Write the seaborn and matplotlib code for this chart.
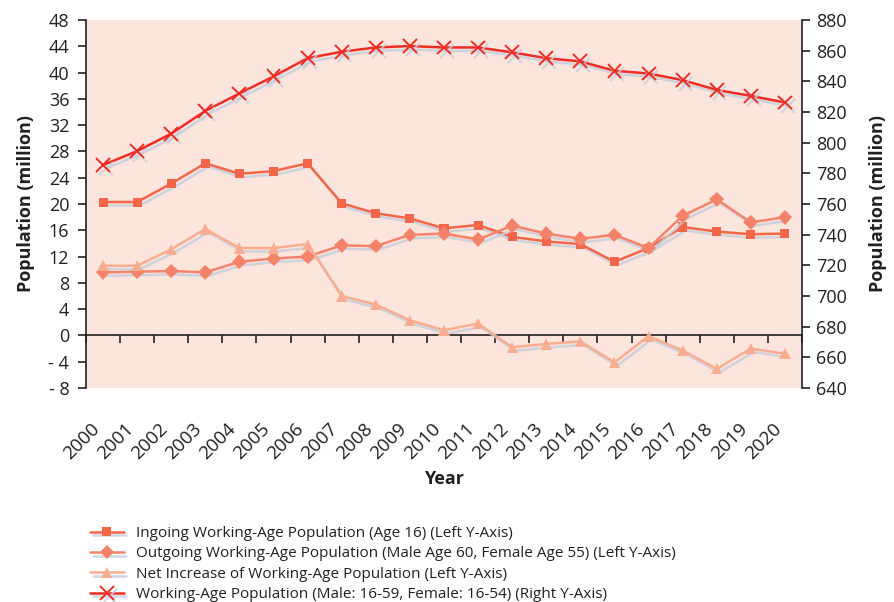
import matplotlib
matplotlib.use("Agg")
import matplotlib.pyplot as plt
import matplotlib.patheffects as pe
from matplotlib.transforms import ScaledTranslation
import seaborn as sns
import pandas as pd

# values
years = list(range(2000, 2021))
ingoing = [20.3, 20.3, 23.1, 26.2, 24.6, 25.0, 26.2, 20.1, 18.6, 17.8, 16.3,
           16.8, 15.0, 14.3, 13.9, 11.2, 13.3, 16.5, 15.8, 15.4, 15.5]
outgoing = [9.6, 9.7, 9.8, 9.6, 11.2, 11.7, 12.0, 13.7, 13.6, 15.3, 15.5,
            14.6, 16.7, 15.5, 14.7, 15.3, 13.3, 18.2, 20.7, 17.2, 18.0]
net_increase = [10.6, 10.6, 13.1, 16.2, 13.3, 13.3, 13.9, 6.0, 4.7, 2.3, 0.8,
                1.8, -1.8, -1.3, -0.9, -4.1, -0.1, -2.3, -5.1, -2.0, -2.8]
working_age = [785.4, 794.5, 805.9, 820.7, 832.1, 843.2, 855.1, 859.3, 862.1, 863.0, 862.1,
               862.1, 858.9, 855.1, 853.0, 846.9, 845.1, 840.8, 834.4, 830.5, 826.2]

left_ticks = list(range(-8, 49, 4))
right_ticks = list(range(640, 881, 20))

labels = [
    "Ingoing Working-Age Population (Age 16) (Left Y-Axis)",
    "Outgoing Working-Age Population (Male Age 60, Female Age 55) (Left Y-Axis)",
    "Net Increase of Working-Age Population (Left Y-Axis)",
    "Working-Age Population (Male: 16-59, Female: 16-54) (Right Y-Axis)",
]
colors = ["#f26649", "#f5836a", "#f9ad90", "#ee2d24"]

df = pd.DataFrame({"Year": years, "ingoing": ingoing, "outgoing": outgoing,
                   "net": net_increase, "working": working_age})

sns.set_style("white")
plt.rcParams["font.family"] = ["Open Sans", "DejaVu Sans"]
text_color = "#231f20"

fig = plt.figure(figsize=(8.95, 6.02), dpi=100)
ax = fig.add_axes([86 / 895, 1 - 388 / 602, (802 - 86) / 895, (388 - 20) / 602])
ax.set_facecolor("#fce5dc")
ax2 = ax.twinx()

shadow = [pe.SimpleLineShadow(offset=(2, -2.5), shadow_color="#c5cedb", alpha=0.8), pe.Normal()]

sns.lineplot(data=df, x="Year", y="ingoing", ax=ax, color=colors[0], marker="s",
             markersize=6.5, markeredgewidth=0, linewidth=1.8, label=labels[0],
             path_effects=shadow, legend=False)
sns.lineplot(data=df, x="Year", y="outgoing", ax=ax, color=colors[1], marker="D",
             markersize=7.5, markeredgewidth=0, linewidth=1.8, label=labels[1],
             path_effects=shadow, legend=False)
sns.lineplot(data=df, x="Year", y="net", ax=ax, color=colors[2], marker="^",
             markersize=8, markeredgewidth=0, linewidth=1.8, label=labels[2],
             path_effects=shadow, legend=False)
sns.lineplot(data=df, x="Year", y="working", ax=ax2, color=colors[3], marker="x",
             markersize=10, markeredgewidth=1.4, markeredgecolor=colors[3],
             linewidth=1.8, label=labels[3], path_effects=shadow, legend=False)

# axes limits and ticks
ax.set_xlim(years[0] - 0.5, years[-1] + 0.5)
ax.set_ylim(left_ticks[0], left_ticks[-1])
ax2.set_ylim(right_ticks[0], right_ticks[-1])

ax.set_yticks(left_ticks)
ax.set_yticklabels([f"- {-t}" if t < 0 else str(t) for t in left_ticks])
ax2.set_yticks(right_ticks)
ax2.set_yticklabels([str(t) for t in right_ticks])

ax.set_xticks(years)
ax.set_xticklabels([str(y) for y in years], rotation=45, ha="right",
                   fontsize=13.5, color=text_color)
shift = ScaledTranslation(-11 / 100, 0, fig.dpi_scale_trans)
for lbl in ax.get_xticklabels():
    lbl.set_transform(lbl.get_transform() + shift)
ax.tick_params(axis="x", length=0, pad=23)
ax.tick_params(axis="y", direction="out", length=6, width=1.2, labelsize=13,
               colors=text_color, pad=6)
ax2.tick_params(axis="y", direction="out", length=6, width=1.2, labelsize=13,
                colors=text_color, pad=4)

for a in (ax, ax2):
    for s in ("top", "bottom"):
        a.spines[s].set_visible(False)
ax.spines["right"].set_visible(False)
ax.spines["left"].set_color(text_color)
ax.spines["left"].set_linewidth(1.2)
ax2.spines["left"].set_visible(False)
ax2.spines["right"].set_color(text_color)
ax2.spines["right"].set_linewidth(1.2)

# zero line with category tick marks
zero_frac = (0 - left_ticks[0]) / (left_ticks[-1] - left_ticks[0])
sec = ax.secondary_xaxis(zero_frac)
sec.set_xticks([y - 0.5 for y in years] + [years[-1] + 0.5])
sec.set_xticklabels([])
sec.tick_params(axis="x", direction="out", length=6, width=1.2, colors=text_color)
sec.spines["bottom"].set_color(text_color)
sec.spines["bottom"].set_linewidth(1.2)

ax.set_xlabel("Year", fontsize=13, fontweight="bold", color=text_color, labelpad=5)
ax.set_ylabel("Population (million)", fontsize=13, fontweight="bold", color=text_color, labelpad=10)
ax2.set_ylabel("Population (million)", fontsize=13, fontweight="bold", color=text_color, labelpad=16)

handles = ax.get_lines()[:3] + ax2.get_lines()[:1]
leg = fig.legend(handles, labels, loc="upper left", bbox_to_anchor=(84 / 895, 1 - 520 / 602),
                 frameon=False, fontsize=11, handlelength=2.2, labelspacing=0.35,
                 handletextpad=0.8, borderaxespad=0)
for t in leg.get_texts():
    t.set_color(text_color)

fig.savefig("out.png", dpi=100)
